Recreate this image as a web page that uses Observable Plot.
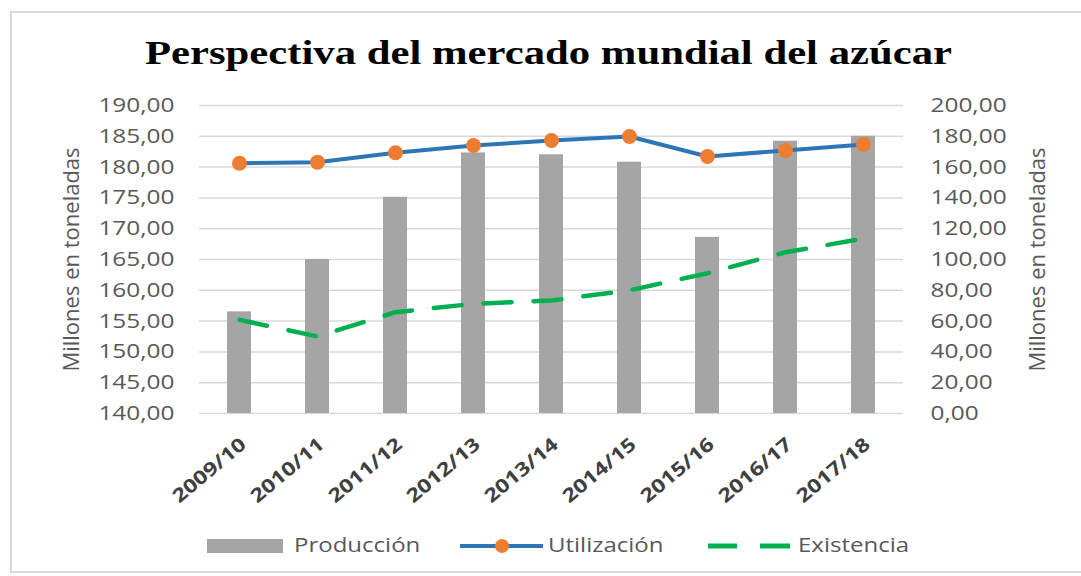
<!DOCTYPE html>
<html>
<head>
<meta charset="utf-8">
<script src="https://cdn.jsdelivr.net/npm/d3@7"></script>
<script src="https://cdn.jsdelivr.net/npm/@observablehq/plot@0.6"></script>
<style>
  html, body { margin: 0; padding: 0; background: #fff; }
  #wrap { position: relative; width: 1081px; height: 576px; overflow: hidden; background: #fff; }
  #frame { position: absolute; left: 10px; top: 11px; width: 1100px; height: 562px; border: 2px solid #d9d9d9; box-sizing: border-box; }
  #title { position: absolute; left: 0; top: 37px; width: 1081px; height: 40px; }
  #title span { position: absolute; left: 0; top: 0; font-family: "Liberation Serif", serif; font-weight: bold; font-size: 33px; line-height: 33px; color: #000; white-space: nowrap; transform-origin: 0 0; }
  #chart { position: absolute; left: 0; top: 90px; }
  .lg { position: absolute; }
  .lgtext { position: absolute; top: 535px; font-family: "Open Sans", sans-serif; font-size: 20px; line-height: 20px; color: #595959; white-space: nowrap; transform: scaleX(1.2); transform-origin: 0 0; }
</style>
</head>
<body>
<div id="wrap">
  <div id="frame"></div>
  <div id="title"><span id="titletext">Perspectiva del mercado mundial del azúcar</span></div>
  <div id="chart"></div>
  <svg class="lg" style="left:0;top:520px" width="1081" height="50">
    <rect x="207" y="19" width="76" height="14" fill="#a5a5a5"></rect>
    <line x1="460" x2="543" y1="26" y2="26" stroke="#2e75b6" stroke-width="4"></line>
    <circle cx="502" cy="26" r="7" fill="#ed7d31"></circle>
    <line x1="708" x2="737" y1="26" y2="26" stroke="#00b050" stroke-width="5"></line>
    <line x1="760" x2="790" y1="26" y2="26" stroke="#00b050" stroke-width="5"></line>
  </svg>
  <div class="lgtext" style="left:294px">Producción</div>
  <div class="lgtext" style="left:548px">Utilización</div>
  <div class="lgtext" style="left:798px">Existencia</div>
</div>
<script>
const categories = ["2009/10", "2010/11", "2011/12", "2012/13", "2013/14", "2014/15", "2015/16", "2016/17", "2017/18"];
const produccion = [156.5, 165.0, 175.1, 182.3, 182.0, 180.8, 168.6, 184.2, 185.0];
const utilizacion = [162.5, 163.2, 169.3, 174.0, 177.3, 179.9, 166.9, 170.8, 174.7];
const existencia = [60.8, 50.0, 65.8, 71.2, 73.4, 80.0, 91.1, 104.7, 113.6];
const leftTicks = [140, 145, 150, 155, 160, 165, 170, 175, 180, 185, 190];
const rightTicks = [0, 20, 40, 60, 80, 100, 120, 140, 160, 180, 200];
const axisTitle = "Millones en toneladas";

const leftMin = leftTicks[0], leftMax = leftTicks[leftTicks.length - 1];
const rightMin = rightTicks[0], rightMax = rightTicks[rightTicks.length - 1];
const toLeft = v => leftMin + (v - rightMin) * (leftMax - leftMin) / (rightMax - rightMin);
const fromLeft = v => rightMin + (v - leftMin) * (rightMax - rightMin) / (leftMax - leftMin);
const fmt = v => (Math.round(v * 100) / 100).toFixed(2).replace(".", ",");

const data = categories.map((c, i) => ({cat: c, prod: produccion[i], util: utilizacion[i], exist: existencia[i]}));

const chart = Plot.plot({
  width: 1081,
  height: 425,
  marginLeft: 199,
  marginRight: 178,
  marginTop: 15,
  marginBottom: 102,
  style: {fontFamily: "'Open Sans', sans-serif", fontSize: "20px", color: "#595959", background: "transparent", overflow: "visible"},
  x: {domain: categories, paddingInner: 0.69, paddingOuter: 0.345, axis: null},
  y: {domain: [leftMin, leftMax], axis: null},
  marks: [
    Plot.gridY(leftTicks, {stroke: "#d9d9d9", strokeOpacity: 1, strokeWidth: 1.5}),
    Plot.axisY(leftTicks, {anchor: "left", tickSize: 0, tickPadding: 25, tickFormat: fmt, label: null}),
    Plot.axisY(rightTicks.map(toLeft), {anchor: "right", tickSize: 0, tickPadding: 27, tickFormat: d => fmt(fromLeft(d)), label: null, textAnchor: "start"}),
    Plot.barY(data, {x: "cat", y1: leftMin, y2: "prod", fill: "#a5a5a5"}),
    Plot.line(data, {x: "cat", y: d => toLeft(d.exist), stroke: "#00b050", strokeWidth: 4.5, strokeDasharray: "28,22"}),
    Plot.line(data, {x: "cat", y: d => toLeft(d.util), stroke: "#2e75b6", strokeWidth: 4}),
    Plot.dot(data, {x: "cat", y: d => toLeft(d.util), r: 7.5, fill: "#ed7d31", stroke: null}),
    Plot.text(categories, {x: d => d, frameAnchor: "bottom", rotate: -40, textAnchor: "end", fontWeight: "bold", fontSize: 19, fill: "#404040", dx: 8, dy: 33}),
    Plot.text([axisTitle], {frameAnchor: "left", textAnchor: "middle", rotate: -90, dx: -128, text: d => d, fill: "#595959", fontSize: 22}),
    Plot.text([axisTitle], {frameAnchor: "right", textAnchor: "middle", rotate: -90, dx: 134, text: d => d, fill: "#595959", fontSize: 22})
  ]
});
document.getElementById("chart").appendChild(chart);

// Widen horizontal glyphs to mimic the stretched original
chart.querySelectorAll("text").forEach(t => {
  if (t.textContent === axisTitle) return;
  const L = t.getComputedTextLength();
  if (L > 0) {
    t.setAttribute("textLength", (L * 1.22).toFixed(1));
    t.setAttribute("lengthAdjust", "spacingAndGlyphs");
  }
});

// Title: centered and stretched to the original width
const tt = document.getElementById("titletext");
const w = tt.getBoundingClientRect().width;
const target = 807;
tt.style.left = (548.5 - target / 2) + "px";
tt.style.transform = `scaleX(${target / w})`;
</script>
</body>
</html>
